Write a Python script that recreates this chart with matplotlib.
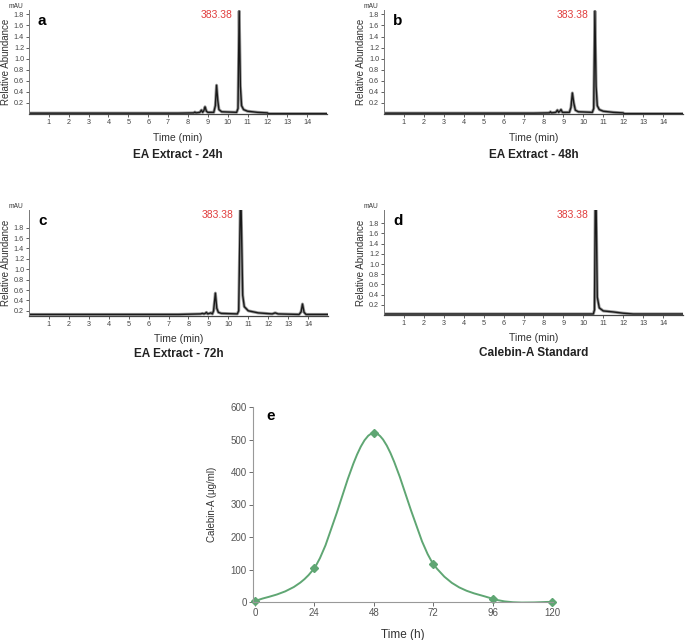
import numpy as np
import matplotlib.pyplot as plt
from matplotlib.path import Path
from matplotlib.patches import PathPatch

plt.rcParams['font.family'] = ['Liberation Sans', 'DejaVu Sans']

W, H = 685, 640

# chromatogram traces, breakpoints (time in min, abundance in mAU)
t_a = [0, 7.5, 8.3, 8.35, 8.4, 8.6, 8.68, 8.74, 8.8, 8.86, 8.93, 9.0, 9.3, 9.38, 9.44,
       9.5, 9.56, 9.7, 10.45, 10.52, 10.58, 10.64, 10.7, 10.8, 11.0, 11.5, 12.0, 12.05, 15]
y_a = [0.015, 0.015, 0.02, 0.035, 0.02, 0.03, 0.07, 0.03, 0.06, 0.13, 0.05, 0.03, 0.03, 0.15, 0.52,
       0.25, 0.08, 0.04, 0.03, 0.1, 1.86, 0.5, 0.15, 0.08, 0.05, 0.03, 0.02, 0.006, 0.006]

t_b = [0, 7.5, 8.3, 8.35, 8.4, 8.62, 8.7, 8.76, 8.82, 8.88, 8.95, 9.3, 9.38, 9.45,
       9.52, 9.6, 9.75, 10.45, 10.52, 10.58, 10.64, 10.7, 10.8, 11.0, 11.5, 12.0, 12.05, 15]
y_b = [0.015, 0.015, 0.02, 0.04, 0.02, 0.03, 0.07, 0.03, 0.05, 0.08, 0.03, 0.03, 0.12, 0.38,
       0.2, 0.07, 0.04, 0.03, 0.1, 1.86, 0.5, 0.15, 0.08, 0.05, 0.03, 0.02, 0.006, 0.006]

t_c = [0, 7.5, 8.6, 8.7, 8.78, 8.84, 8.9, 8.97, 9.05, 9.12, 9.2, 9.26, 9.35, 9.42, 9.5,
       9.65, 10.45, 10.52, 10.6, 10.64, 10.72, 10.8, 11.0, 11.5, 12.2, 12.35, 12.5, 13.55, 13.65,
       13.72, 13.8, 13.9, 15]
y_c = [0.13, 0.13, 0.14, 0.15, 0.14, 0.15, 0.17, 0.14, 0.15, 0.16, 0.14, 0.2, 0.54, 0.25, 0.17,
       0.15, 0.14, 0.2, 2.2, 2.2, 0.5, 0.28, 0.2, 0.16, 0.14, 0.16, 0.14, 0.13, 0.18,
       0.33, 0.17, 0.13, 0.13]

t_d = [0, 10.5, 10.56, 10.6, 10.64, 10.7, 10.8, 11.0, 11.5, 12.0, 12.5, 15]
y_d = [0.02, 0.02, 0.1, 2.2, 2.2, 0.35, 0.14, 0.08, 0.06, 0.035, 0.02, 0.02]

panels = [
    ('a', 'EA Extract - 24h', t_a, y_a, (0, 1.88), (29, 10, 327, 114), (138, 155)),
    ('b', 'EA Extract - 48h', t_b, y_b, (0, 1.88), (384, 10, 683, 114), (138, 155)),
    ('c', 'EA Extract - 72h', t_c, y_c, (0.1, 2.14), (29, 210, 328, 316), (339, 354)),
    ('d', 'Calebin-A Standard', t_d, y_d, (0, 2.06), (384, 210, 683, 315), (338, 353)),
]
peak_label = '383.38'
x_ticks = list(range(1, 15))
y_ticks = [0.2, 0.4, 0.6, 0.8, 1.0, 1.2, 1.4, 1.6, 1.8]

# production time course
hours = [0, 24, 48, 72, 96, 120]
calebin = [2, 105, 520, 118, 10, 0]

fig = plt.figure(figsize=(W / 100, H / 100), dpi=100)


def box(x0, y0, x1, y1):
    return [x0 / W, 1 - y1 / H, (x1 - x0) / W, (y1 - y0) / H]


for letter, title, t, y, ylim, (x0, y0, x1, y1), (ylab, ytit) in panels:
    ax = fig.add_axes(box(x0, y0, x1, y1))
    ax.plot(t, y, color='#9a9a9a', lw=2.2, solid_joinstyle='round')
    ax.plot(t, y, color='#1a1a1a', lw=1.0, solid_joinstyle='round')
    ax.set_xlim(0, 15)
    ax.set_ylim(*ylim)
    ax.set_xticks(x_ticks)
    ax.set_yticks(y_ticks)
    ax.set_yticklabels([f'{v:.1f}' for v in y_ticks])
    ax.tick_params(labelsize=5.2, length=2, width=0.6, colors='#444', pad=1.5)
    for s in ['top', 'right']:
        ax.spines[s].set_visible(False)
    ax.spines['left'].set_color('#777')
    ax.spines['bottom'].set_color('#444')
    ax.spines['left'].set_linewidth(0.7)
    ax.spines['bottom'].set_linewidth(0.9)
    ax.set_ylabel('Relative Abundance', fontsize=7, color='#333', labelpad=2)
    ax.text(0.03, 0.96, letter, transform=ax.transAxes, fontsize=11,
            fontweight='bold', va='top')
    ax.text(9.45, ylim[0] + 0.95 * (ylim[1] - ylim[0]), peak_label, fontsize=7.5,
            color='#e03c3c', ha='center', va='center')
    ax.text(-0.02, 1.0, 'mAU', transform=ax.transAxes, fontsize=4.8, color='#333',
            ha='right', va='bottom')
    xc = (x0 + x1) / 2 / W
    fig.text(xc, 1 - ylab / H, 'Time (min)', fontsize=7.5, color='#333',
             ha='center', va='center')
    fig.text(xc, 1 - ytit / H, title, fontsize=8.5, fontweight='bold', color='#222',
             ha='center', va='center')

# panel e
ax = fig.add_axes(box(253, 407, 553, 602))
green = '#5fa673'
pts = np.column_stack([hours, calebin]).astype(float)
verts = [pts[0]]
codes = [Path.MOVETO]
n = len(pts)
for i in range(n - 1):
    p0 = pts[max(i - 1, 0)]
    p1 = pts[i]
    p2 = pts[i + 1]
    p3 = pts[min(i + 2, n - 1)]
    c1 = p1 + (p2 - p0) / 6
    c2 = p2 - (p3 - p1) / 6
    verts += [c1, c2, p2]
    codes += [Path.CURVE4] * 3
ax.add_patch(PathPatch(Path(verts, codes), fill=False, edgecolor=green, lw=1.4))
ax.plot(hours, calebin, ls='none', marker='D', ms=4.5, color=green, clip_on=False)
ax.set_xlim(-0.8, 120.4)
ax.set_ylim(0, 600)
ax.set_xticks(hours)
ax.set_yticks(range(0, 601, 100))
ax.tick_params(labelsize=7, length=3, width=0.6, colors='#555', pad=1.5)
for s in ['top', 'right']:
    ax.spines[s].set_visible(False)
ax.spines['left'].set_color('#999')
ax.spines['bottom'].set_color('#999')
ax.set_xlabel('Time (h)', fontsize=8.5, color='#333', labelpad=8)
ax.set_ylabel('Calebin-A (\u03bcg/ml)', fontsize=7, color='#333', labelpad=10)
ax.text(0.045, 0.99, 'e', transform=ax.transAxes, fontsize=11, fontweight='bold', va='top')

fig.savefig('out.png', dpi=100)
